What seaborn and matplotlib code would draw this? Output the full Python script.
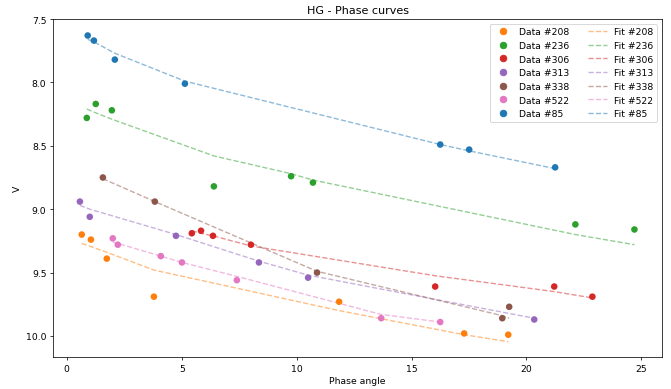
import numpy as np
import pandas as pd
import matplotlib
matplotlib.use("Agg")
import matplotlib.pyplot as plt
import seaborn as sns
from matplotlib.lines import Line2D

# ---- data ----
series_names = ["#208", "#236", "#306", "#313", "#338", "#522", "#85"]
series_colors = ["#ff7f0e", "#2ca02c", "#d62728", "#9467bd", "#8c564b", "#e377c2", "#1f77b4"]

phase_208 = [0.65, 1.05, 1.74, 3.79, 11.85, 17.29, 19.21]
mag_208 = [9.20, 9.24, 9.39, 9.69, 9.73, 9.98, 9.99]
fit_208 = [9.27, 9.295, 9.34, 9.48, 9.80, 9.99, 10.045]

phase_236 = [0.87, 1.26, 1.96, 6.40, 9.76, 10.71, 22.13, 24.70]
mag_236 = [8.28, 8.17, 8.22, 8.82, 8.74, 8.79, 9.12, 9.16]
fit_236 = [8.21, 8.24, 8.29, 8.58, 8.72, 8.77, 9.20, 9.28]

phase_306 = [5.44, 5.84, 6.36, 8.01, 16.03, 21.21, 22.87]
mag_306 = [9.19, 9.17, 9.21, 9.28, 9.61, 9.61, 9.69]
fit_306 = [9.17, 9.19, 9.21, 9.29, 9.525, 9.65, 9.70]

phase_313 = [0.57, 1.00, 4.75, 8.36, 10.50, 20.34]
mag_313 = [8.94, 9.06, 9.21, 9.42, 9.54, 9.87]
fit_313 = [8.97, 9.00, 9.20, 9.41, 9.52, 9.86]

phase_338 = [1.57, 3.83, 10.89, 18.95, 19.25]
mag_338 = [8.75, 8.94, 9.50, 9.86, 9.77]
fit_338 = [8.76, 8.94, 9.49, 9.84, 9.86]

phase_522 = [2.00, 2.22, 4.09, 5.01, 7.40, 13.68, 16.25]
mag_522 = [9.23, 9.28, 9.37, 9.42, 9.56, 9.86, 9.89]
fit_522 = [9.26, 9.27, 9.37, 9.42, 9.53, 9.83, 9.89]

phase_85 = [0.91, 1.18, 2.09, 5.14, 16.25, 17.51, 21.25]
mag_85 = [7.63, 7.67, 7.82, 8.01, 8.49, 8.53, 8.67]
fit_85 = [7.66, 7.68, 7.77, 7.99, 8.49, 8.54, 8.68]

phases = [phase_208, phase_236, phase_306, phase_313, phase_338, phase_522, phase_85]
mags = [mag_208, mag_236, mag_306, mag_313, mag_338, mag_522, mag_85]
fits = [fit_208, fit_236, fit_306, fit_313, fit_338, fit_522, fit_85]

rows, frows = [], []
for name, ph, mg, ft in zip(series_names, phases, mags, fits):
    for a, m, f in zip(ph, mg, ft):
        rows.append({"series": name, "Phase angle": a, "V": m})
        frows.append({"series": name, "Phase angle": a, "V": f})
df = pd.DataFrame(rows)
fdf = pd.DataFrame(frows)
palette = dict(zip(series_names, series_colors))

plt.rcParams["font.size"] = 10
fig = plt.figure(figsize=(10, 5.812), dpi=67.1)
ax = fig.add_axes([0.079, 0.082, 0.9076, 0.8667])

sns.lineplot(data=fdf, x="Phase angle", y="V", hue="series", palette=palette,
             estimator=None, sort=True, legend=False, ax=ax,
             linestyle="--", alpha=0.5, linewidth=1.5)
sns.scatterplot(data=df, x="Phase angle", y="V", hue="series", palette=palette,
                legend=False, ax=ax, s=50, linewidth=0, zorder=3)

ax.set_xlim(-0.6, 25.9)
ax.set_ylim(10.166, 7.5)
ax.set_xticks([0, 5, 10, 15, 20, 25])
ax.set_yticks([7.5, 8.0, 8.5, 9.0, 9.5, 10.0])
ax.set_xlabel("Phase angle")
ax.set_ylabel("V")
ax.set_title("HG - Phase curves")

handles, labels = [], []
for name, c in zip(series_names, series_colors):
    handles.append(Line2D([], [], marker="o", linestyle="none", color=c, markersize=7))
    labels.append("Data " + name)
for name, c in zip(series_names, series_colors):
    handles.append(Line2D([], [], linestyle="--", color=c, alpha=0.5, linewidth=1.5))
    labels.append("Fit " + name)
ax.legend(handles, labels, ncol=2, loc="upper right")

fig.savefig("out.png", dpi=67.1)
